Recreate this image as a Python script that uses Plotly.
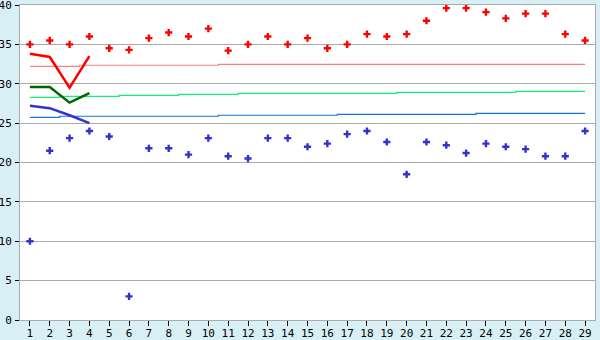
import plotly.graph_objects as go

days = list(range(1, 30))
tmax = [35.0, 35.5, 35.0, 36.0, 34.5, 34.3, 35.8, 36.5, 36.0, 37.0,
        34.2, 35.0, 36.0, 35.0, 35.8, 34.5, 35.0, 36.3, 36.0, 36.3,
        38.0, 39.6, 39.6, 39.1, 38.3, 38.9, 38.9, 36.3, 35.5]
tmin = [10.0, 21.5, 23.1, 24.0, 23.3, 3.0, 21.8, 21.8, 21.0, 23.1,
        20.8, 20.5, 23.1, 23.1, 22.0, 22.4, 23.6, 24.0, 22.6, 18.5,
        22.6, 22.2, 21.2, 22.4, 22.0, 21.7, 20.8, 20.8, 24.0]
fc_days = [1, 2, 3, 4]
fc_max = [33.8, 33.4, 29.5, 33.5]
fc_mean = [29.6, 29.6, 27.6, 28.8]
fc_min = [27.2, 26.9, 26.0, 25.0]
norm_max = [32.2, 32.2, 32.2] + [32.35] * 7 + [32.47] * 19
norm_mean = [28.28] * 2 + [28.4] * 3 + [28.53] * 3 + [28.66] * 3 + [28.79] * 8 + [28.91] * 6 + [29.04] * 4
norm_min = [25.74] * 2 + [25.87] * 8 + [26.0] * 6 + [26.12] * 7 + [26.25] * 6

fig = go.Figure()
fig.add_trace(go.Scatter(x=days, y=norm_max, mode="lines", line=dict(color="#ff7f7f", width=1.2, shape="hvh")))
fig.add_trace(go.Scatter(x=days, y=norm_mean, mode="lines", line=dict(color="#11ee77", width=1.2, shape="hvh")))
fig.add_trace(go.Scatter(x=days, y=norm_min, mode="lines", line=dict(color="#1177dd", width=1.2, shape="hvh")))
fig.add_trace(go.Scatter(x=fc_days, y=fc_max, mode="lines", line=dict(color="#ff0000", width=2.5)))
fig.add_trace(go.Scatter(x=fc_days, y=fc_mean, mode="lines", line=dict(color="#006600", width=2.5)))
fig.add_trace(go.Scatter(x=fc_days, y=fc_min, mode="lines", line=dict(color="#3333cc", width=2.5)))
fig.add_trace(go.Scatter(x=days, y=tmax, mode="markers",
                         marker=dict(symbol="cross", size=6, color="#ff0000", line=dict(width=0))))
fig.add_trace(go.Scatter(x=days, y=tmin, mode="markers",
                         marker=dict(symbol="cross", size=6, color="#3333cc", line=dict(width=0))))

axis_font = dict(family="DejaVu Sans Mono", size=11, color="#000000")
fig.update_layout(
    width=600, height=340,
    margin=dict(l=20, r=5, t=5, b=20),
    paper_bgcolor="#d8eff6",
    plot_bgcolor="#ffffff",
    showlegend=False,
    xaxis=dict(range=[0.5, 29.5], tickvals=days, ticktext=[str(d) for d in days],
               showgrid=False, zeroline=False, showline=True, linecolor="#aaaaaa",
               linewidth=1, mirror=True, ticks="outside", ticklen=5, tickcolor="#000000",
               tickfont=axis_font, automargin=False, ticklabeloverflow="allow",
               ticklabelstandoff=-2),
    yaxis=dict(range=[0, 40], tickvals=[0, 5, 10, 15, 20, 25, 30, 35, 40],
               showgrid=True, gridcolor="#aaaaaa", gridwidth=1, zeroline=False,
               showline=True, linecolor="#aaaaaa", linewidth=1, mirror=True,
               ticks="outside", ticklen=4, tickcolor="#000000", tickfont=axis_font,
               automargin=False, ticklabeloverflow="allow", ticklabelstandoff=1),
)
fig.write_html("out.html")
